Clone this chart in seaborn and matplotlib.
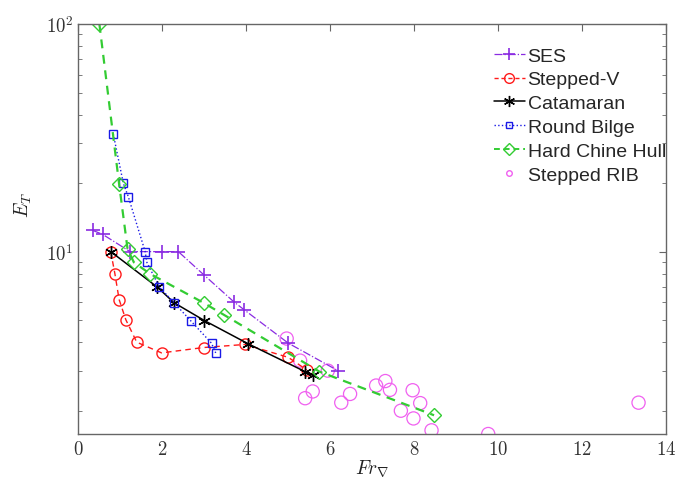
import numpy as np
import pandas as pd
import matplotlib
matplotlib.use("Agg")
import matplotlib.pyplot as plt
import seaborn as sns
from matplotlib.lines import Line2D

# ---- data ----
ses_x = [0.35, 0.59, 1.24, 1.99, 2.39, 3.00, 3.72, 3.96, 5.01, 6.19]
ses_y = [12.4, 11.9, 10.0, 10.0, 10.0, 7.9, 6.0, 5.55, 3.96, 3.0]

sv_x = [0.78, 0.88, 0.98, 1.14, 1.40, 1.99, 2.99, 3.98, 5.01, 5.45]
sv_y = [10.0, 7.98, 6.16, 5.02, 4.0, 3.59, 3.79, 3.91, 3.43, 3.02]

cat_x = [0.78, 1.89, 2.29, 3.01, 4.06, 5.41, 5.59]
cat_y = [10.0, 6.98, 5.96, 4.98, 3.93, 2.97, 2.88]

rb_x = [0.84, 1.08, 1.20, 1.60, 1.64, 1.94, 2.29, 2.68, 3.18, 3.28]
rb_y = [32.9, 19.97, 17.4, 10.0, 8.98, 6.98, 5.96, 4.98, 3.96, 3.59]

hc_x = [0.51, 0.98, 1.18, 1.33, 1.72, 2.99, 3.48, 5.75, 8.48]
hc_y = [100.0, 19.8, 10.3, 8.98, 7.98, 5.96, 5.27, 2.97, 1.91]

rib_x = [4.97, 5.29, 5.95, 5.41, 5.59, 6.27, 6.48, 7.10, 7.32, 7.43, 7.97,
         8.15, 7.69, 7.99, 8.42, 9.77, 13.35]
rib_y = [4.15, 3.32, 3.0, 2.27, 2.43, 2.17, 2.37, 2.58, 2.70, 2.47, 2.46,
         2.16, 2.0, 1.85, 1.64, 1.58, 2.17]

labels = ["SES", "Stepped-V", "Catamaran", "Round Bilge", "Hard Chine Hull", "Stepped RIB"]

# ---- style ----
sns.set_style("white")
plt.rcParams["mathtext.fontset"] = "cm"

c_ses = "#8A2BE2"
c_sv = "#FF1A1A"
c_cat = "#000000"
c_rb = "#1A1AE6"
c_hc = "#33CC33"
c_rib = "#F060F0"

fig = plt.figure(figsize=(6.9, 4.81), dpi=100)
ax = fig.add_axes([0.113, 0.0956, 0.852, 0.8524])

def draw(x, y, color, ls, lw, marker, ms, mew, label):
    df = pd.DataFrame({"x": x, "y": y})
    sns.lineplot(data=df, x="x", y="y", ax=ax, sort=False, estimator=None,
                 color=color, linestyle=ls, linewidth=lw, marker=marker,
                 markersize=ms, markerfacecolor="none", markeredgecolor=color,
                 markeredgewidth=mew, label=label, legend=False)

draw(ses_x, ses_y, c_ses, "-.", 0.9, "+", 10, 1.2, labels[0])
draw(sv_x, sv_y, c_sv, (0, (4, 3)), 1.0, "o", 8, 1.0, labels[1])
draw(cat_x, cat_y, c_cat, "-", 1.1, (6, 2, 0), 9, 1.0, labels[2])
draw(rb_x, rb_y, c_rb, ":", 1.0, "s", 6, 1.0, labels[3])
draw(hc_x, hc_y, c_hc, (0, (4, 3)), 1.6, "D", 7, 1.0, labels[4])

rib_df = pd.DataFrame({"x": rib_x, "y": rib_y})
sns.scatterplot(data=rib_df, x="x", y="y", ax=ax, marker="o", s=90,
                facecolors="none", edgecolor=c_rib, linewidth=0.9, legend=False)

ax.set_yscale("log")
ax.set_xlim(0, 14)
ax.set_ylim(1.58, 100)
ax.set_xticks([0, 2, 4, 6, 8, 10, 12, 14])
ax.set_xticklabels([f"${v}$" for v in [0, 2, 4, 6, 8, 10, 12, 14]])
ax.set_yticks([10, 100])
ax.set_yticklabels([r"$10^{1}$", r"$10^{2}$"])

for s in ax.spines.values():
    s.set_color("#666666")
    s.set_linewidth(1.0)
ax.tick_params(axis="both", which="both", direction="in", top=True, right=True,
               colors="#666666", labelcolor="#333333", labelsize=13.5)
ax.tick_params(axis="both", which="major", length=5)
ax.tick_params(axis="y", which="minor", length=3, left=True, right=True)

ax.set_xlabel(r"$Fr_\nabla$", fontsize=14, color="#222222", labelpad=0)
ax.set_ylabel(r"$E_T$", fontsize=14, color="#222222")
ax.yaxis.set_label_coords(-0.075, 0.56)

handles = [
    Line2D([], [], color=c_ses, ls="-.", lw=0.9, marker="+", ms=9, mew=1.2),
    Line2D([], [], color=c_sv, ls=(0, (3, 2)), lw=1.0, marker="o", ms=7, mfc="none"),
    Line2D([], [], color=c_cat, ls="-", lw=1.1, marker=(6, 2, 0), ms=8),
    Line2D([], [], color=c_rb, ls=":", lw=1.0, marker="s", ms=5, mfc="none"),
    Line2D([], [], color=c_hc, ls=(0, (3, 2)), lw=1.4, marker="D", ms=6, mfc="none"),
    Line2D([], [], color=c_rib, ls="none", marker="o", ms=4, mfc="none"),
]
leg = ax.legend(handles, labels, loc="upper right", bbox_to_anchor=(1.0, 0.944),
                frameon=False, prop={"family": "Liberation Sans", "size": 14},
                handlelength=1.6, handletextpad=0.15, labelspacing=0.32,
                borderaxespad=0.0, borderpad=0.0)

fig.savefig("out.png", dpi=100)
